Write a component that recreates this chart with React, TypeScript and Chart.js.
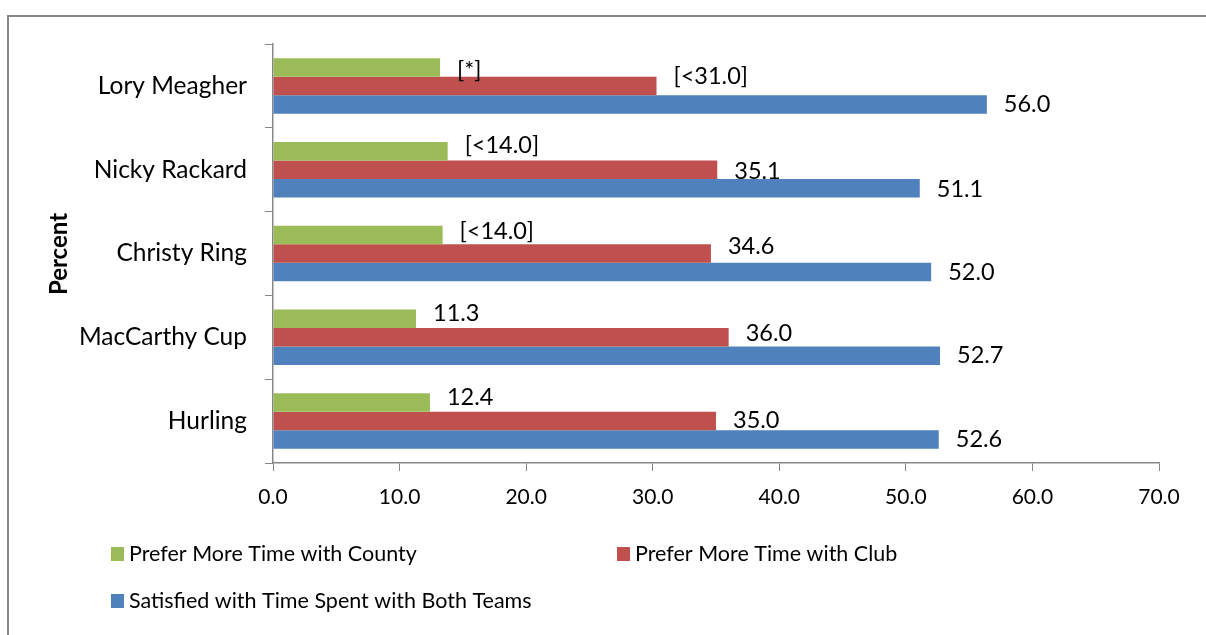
import { useEffect, useRef } from 'react';
import { Chart, registerables } from 'chart.js';

Chart.register(...registerables);

const CATEGORIES = ['Lory Meagher', 'Nicky Rackard', 'Christy Ring', 'MacCarthy Cup', 'Hurling'];
const SERIES_NAMES = [
  'Prefer More Time with County',
  'Prefer More Time with Club',
  'Satisfied with Time Spent with Both Teams',
];
const COUNTY = [13.2, 13.8, 13.4, 11.3, 12.4];
const CLUB = [30.3, 35.1, 34.6, 36.0, 35.0];
const BOTH = [56.4, 51.1, 52.0, 52.7, 52.6];
const COUNTY_LABELS = ['[*]', '[<14.0]', '[<14.0]', '11.3', '12.4'];
const CLUB_LABELS = ['[<31.0]', '35.1', '34.6', '36.0', '35.0'];
const BOTH_LABELS = ['56.0', '51.1', '52.0', '52.7', '52.6'];
const X_MIN = 0;
const X_MAX = 70;
const X_STEP = 10;

const COLORS = ['#9BBB59', '#C0504D', '#4F81BD'];
const LABEL_NUDGE = [
  [3, -6, -4, -5, -5],
  [-9, 2, -7, -4, -1],
  [0, 1, 0, 0, 0],
];
const FONT = 'Lato';
const AXIS_GRAY = '#878787';

export default function App() {
  const ref = useRef<HTMLCanvasElement>(null);

  useEffect(() => {
    const canvas = ref.current!;
    const labelSets = [COUNTY_LABELS, CLUB_LABELS, BOTH_LABELS];

    const annot = {
      id: 'annot',
      afterDraw(chart: any) {
        const ctx = chart.ctx as CanvasRenderingContext2D;
        ctx.save();
        // frame
        ctx.strokeStyle = AXIS_GRAY;
        ctx.lineWidth = 2;
        ctx.beginPath();
        ctx.moveTo(8, 635);
        ctx.lineTo(8, 16);
        ctx.lineTo(1206, 16);
        ctx.stroke();

        // data labels
        ctx.fillStyle = '#000';
        ctx.font = `23.5px ${FONT}`;
        ctx.textAlign = 'left';
        ctx.textBaseline = 'middle';
        chart.data.datasets.forEach((_ds: any, i: number) => {
          const meta = chart.getDatasetMeta(i);
          meta.data.forEach((bar: any, j: number) => {
            ctx.fillText(labelSets[i][j], bar.x + 17, bar.y + LABEL_NUDGE[i][j]);
          });
        });

        // axis title
        ctx.save();
        ctx.translate(59, 254);
        ctx.rotate(-Math.PI / 2);
        ctx.font = `bold 24px ${FONT}`;
        ctx.textAlign = 'center';
        ctx.textBaseline = 'middle';
        ctx.fillText('Percent', 0, 0);
        ctx.restore();

        // legend
        const items = [
          { x: 111, y: 554, i: 0 },
          { x: 617, y: 554, i: 1 },
          { x: 111, y: 601, i: 2 },
        ];
        ctx.font = `21.5px ${FONT}`;
        ctx.textBaseline = 'middle';
        items.forEach((it) => {
          ctx.fillStyle = COLORS[it.i];
          ctx.fillRect(it.x, it.y - 7, 13, 14);
          ctx.fillStyle = '#000';
          ctx.fillText(SERIES_NAMES[it.i], it.x + 18, it.y);
        });
        ctx.restore();
      },
    };

    const chart = new Chart(canvas, {
      type: 'bar',
      data: {
        labels: CATEGORIES,
        datasets: [COUNTY, CLUB, BOTH].map((d, i) => ({
          label: SERIES_NAMES[i],
          data: d,
          backgroundColor: COLORS[i],
          borderWidth: 0,
          categoryPercentage: 0.662,
          barPercentage: 1,
        })),
      },
      options: {
        indexAxis: 'y',
        responsive: false,
        animation: false,
        layout: { padding: { left: 0, top: 44, right: 47, bottom: 0 } },
        plugins: { legend: { display: false }, tooltip: { enabled: false } },
        scales: {
          x: {
            min: X_MIN,
            max: X_MAX,
            afterFit: (s: any) => {
              s.height = 172;
            },
            ticks: {
              stepSize: X_STEP,
              padding: 14,
              color: '#000',
              font: { family: FONT, size: 21 },
              callback: (v: any) => Number(v).toFixed(1),
            },
            grid: {
              drawOnChartArea: false,
              drawTicks: true,
              tickLength: 8,
              color: AXIS_GRAY,
            },
            border: { display: true, color: AXIS_GRAY, width: 1.5 },
          },
          y: {
            afterFit: (s: any) => {
              s.width = 273;
            },
            ticks: {
              padding: 18,
              color: '#000',
              font: { family: FONT, size: 24.5 },
            },
            grid: {
              drawOnChartArea: false,
              drawTicks: true,
              tickLength: 8,
              color: AXIS_GRAY,
              offset: true,
            },
            border: { display: true, color: AXIS_GRAY, width: 1.5 },
          },
        },
      },
      plugins: [annot],
    });
    return () => chart.destroy();
  }, []);

  return (
    <div style={{ position: 'fixed', left: 0, top: 0, width: 1206, height: 635, background: '#fff' }}>
      <canvas ref={ref} width={1206} height={635} style={{ width: 1206, height: 635, display: 'block' }} />
    </div>
  );
}
